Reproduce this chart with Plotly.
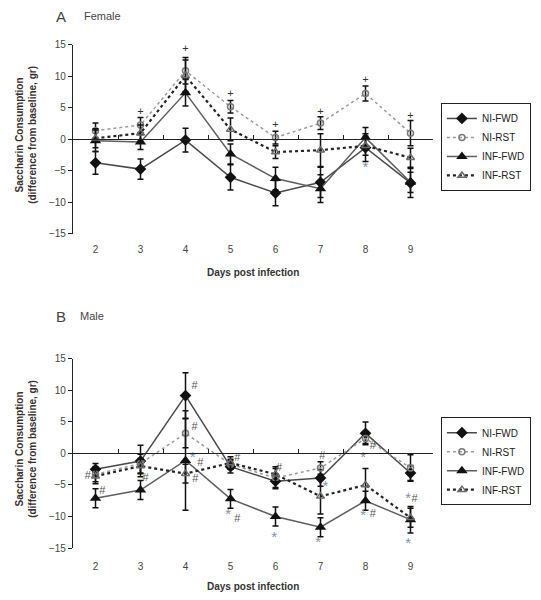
import plotly.graph_objects as go

days = [2, 3, 4, 5, 6, 7, 8, 9]
series_names = ["NI-FWD", "NI-RST", "INF-FWD", "INF-RST"]

# Panel A (Female)
f_ni_fwd = [-3.7, -4.7, -0.1, -6.0, -8.5, -6.8, -1.3, -6.9]
f_ni_fwd_se = [1.8, 1.6, 1.9, 2.0, 2.0, 2.4, 2.2, 2.3]
f_ni_rst = [1.4, 2.3, 10.9, 5.2, 0.3, 2.6, 7.3, 1.0]
f_ni_rst_se = [1.2, 1.2, 2.1, 1.0, 1.0, 1.0, 1.2, 2.0]
f_inf_fwd = [-0.2, -0.4, 7.4, -2.3, -6.2, -7.8, 0.3, -6.8]
f_inf_fwd_se = [1.7, 1.2, 2.1, 1.6, 1.8, 2.2, 1.6, 1.6]
f_inf_rst = [0.2, 1.0, 10.1, 1.6, -2.0, -1.7, -1.0, -2.9]
f_inf_rst_se = [1.5, 1.3, 2.5, 1.8, 1.0, 2.6, 1.5, 1.5]

# Panel B (Male)
m_ni_fwd = [-2.5, -1.2, 9.2, -2.1, -4.4, -3.9, 3.2, -3.1]
m_ni_fwd_se = [0.9, 2.5, 3.6, 1.0, 1.2, 1.3, 1.8, 1.2]
m_ni_rst = [-3.3, -1.6, 3.2, -1.7, -3.9, -2.3, 2.4, -2.3]
m_ni_rst_se = [1.2, 1.5, 2.3, 0.8, 1.5, 1.0, 0.8, 2.1]
m_inf_fwd = [-7.1, -5.8, -1.1, -7.2, -10.0, -11.7, -7.5, -10.5]
m_inf_fwd_se = [1.5, 1.5, 7.9, 1.5, 1.5, 1.5, 1.5, 2.1]
m_inf_rst = [-3.6, -2.0, -3.2, -1.5, -3.3, -6.8, -5.0, -10.2]
m_inf_rst_se = [1.2, 1.2, 1.5, 1.0, 1.2, 2.8, 2.6, 1.5]

# significance marks
a_mark_x = [3, 4, 5, 6, 7, 8, 9, 8]
a_mark_y = [4.3, 14.4, 7.1, 2.2, 4.4, 9.4, 3.7, -4.6]
a_mark_text = ["+", "+", "+", "+", "+", "+", "+", "*"]

b_mark_x = [1.83, 2.15, 3.11, 4.2, 4.2, 4.16, 4.33, 4.22, 4.95, 5.15, 5.15,
            5.97, 6.08, 6.95, 7.11, 7.04, 8.16, 7.95, 7.95, 8.16, 8.95, 9.09, 8.95]
b_mark_y = [-3.6, -6.0, -4.0, 10.7, 4.1, -0.7, -1.5, -4.1, -9.8, -10.4, -0.7,
            -13.4, -2.3, -14.2, -5.4, -0.5, 1.2, -0.8, -10.0, -9.7, -7.2, -7.2, -14.4]
b_mark_text = ["#", "#", "#", "#", "#", "*", "#", "#", "*", "#", "#",
               "*", "#", "*", "*", "#", "#", "*", "*", "#", "*", "#", "*"]

x_tick_vals = days
y_tick_vals = [-15, -10, -5, 0, 5, 10, 15]

styles = {
    "NI-FWD": dict(line=dict(color="#4a4a4a", width=1.5, dash="solid"),
                   marker=dict(symbol="diamond", size=9, color="#111111")),
    "NI-RST": dict(line=dict(color="#9a9a9a", width=1.5, dash="dot"),
                   marker=dict(symbol="circle-open", size=6, color="#7a7a7a",
                               line=dict(width=1.5, color="#7a7a7a"))),
    "INF-FWD": dict(line=dict(color="#5e5e5e", width=1.5, dash="solid"),
                    marker=dict(symbol="triangle-up", size=10, color="#111111")),
    "INF-RST": dict(line=dict(color="#222222", width=2.2, dash="dot"),
                    marker=dict(symbol="triangle-up-open", size=7, color="#6a6a6a",
                                line=dict(width=1.5, color="#6a6a6a"))),
}

fig = go.Figure()

panels = [
    ("x", "y", "legend",
     [(f_ni_fwd, f_ni_fwd_se), (f_ni_rst, f_ni_rst_se),
      (f_inf_fwd, f_inf_fwd_se), (f_inf_rst, f_inf_rst_se)]),
    ("x2", "y2", "legend2",
     [(m_ni_fwd, m_ni_fwd_se), (m_ni_rst, m_ni_rst_se),
      (m_inf_fwd, m_inf_fwd_se), (m_inf_rst, m_inf_rst_se)]),
]

for xa, ya, lg, data in panels:
    for name, (vals, se) in zip(series_names, data):
        st = styles[name]
        fig.add_trace(go.Scatter(
            x=days, y=vals, name=name, mode="lines+markers",
            line=st["line"], marker=st["marker"],
            error_y=dict(type="data", array=se, visible=True,
                         color="#111111", thickness=1.5, width=3),
            xaxis=xa, yaxis=ya, legend=lg, showlegend=True,
        ))

mark_style = {"+": ("#333333", 11), "#": ("#555555", 11), "*": ("#7f93a6", 15)}
for xa, ya, mx, my, mt in [("x", "y", a_mark_x, a_mark_y, a_mark_text),
                           ("x2", "y2", b_mark_x, b_mark_y, b_mark_text)]:
    for sym, (col, sz) in mark_style.items():
        idx = [i for i, t in enumerate(mt) if t == sym]
        if not idx:
            continue
        fig.add_trace(go.Scatter(
            x=[mx[i] for i in idx], y=[my[i] for i in idx],
            text=[sym] * len(idx), mode="text",
            textfont=dict(size=sz, color=col, family="Liberation Sans, Arial"),
            xaxis=xa, yaxis=ya, showlegend=False, hoverinfo="skip"))

# invisible traces to carry zero-line axes
fig.add_trace(go.Scatter(x=[], y=[], xaxis="x3", yaxis="y", showlegend=False))
fig.add_trace(go.Scatter(x=[], y=[], xaxis="x4", yaxis="y2", showlegend=False))

domA = [0.6138, 0.9397]
domB = [0.0724, 0.3983]
xr = [1.5, 9.5]
tickfont = dict(size=10, color="#444444", family="Liberation Sans, Arial")

def xaxis_labels(anchor, standoff):
    return dict(range=xr, tickvals=x_tick_vals, showline=False, ticks="",
                showgrid=False, zeroline=False, tickfont=tickfont,
                ticklabelstandoff=standoff, anchor=anchor, domain=[0, 1])

def yaxis(dom, anchor):
    return dict(range=[-15, 15], tickvals=y_tick_vals, domain=dom, anchor=anchor,
                showline=True, linecolor="#222222", linewidth=1.2,
                ticks="outside", ticklen=4, tickcolor="#222222",
                showgrid=False, zeroline=False, tickfont=tickfont)

def zero_axis(over, pos):
    return dict(range=xr, overlaying=over, anchor="free", position=pos,
                tickvals=[1.5 + i for i in range(9)], ticks="inside", ticklen=4,
                tickcolor="#222222", showticklabels=False, showline=True,
                linecolor="#222222", linewidth=1.2, showgrid=False, zeroline=False)

legend_common = dict(xanchor="left", yanchor="top",
                     bordercolor="#222222", borderwidth=1, bgcolor="white",
                     font=dict(size=10, color="#222222"), tracegroupgap=0,
                     itemwidth=30)

fig.update_layout(
    width=533, height=592,
    margin=dict(l=65, r=108, t=2, b=10, autoexpand=False),
    paper_bgcolor="white", plot_bgcolor="white",
    font=dict(family="Liberation Sans, Arial", color="#333333"),
    xaxis=xaxis_labels("y", 8),
    yaxis=yaxis(domA, "x"),
    xaxis2=xaxis_labels("y2", 11),
    yaxis2=yaxis(domB, "x2"),
    xaxis3=zero_axis("x", sum(domA) / 2),
    xaxis4=zero_axis("x2", sum(domB) / 2),
    legend=dict(x=1.022, y=0.8397, **legend_common),
    legend2=dict(x=1.022, y=0.298, **legend_common),
    showlegend=True,
)

ytitle = "<b>Saccharin Consumption<br>(difference from baseline, gr)</b>"
for (dom, letter, sex, ytop_px, sex_x) in [(domA, "A", "Female", 16, 82),
                                            (domB, "B", "Male", 316, 78)]:
    mid = sum(dom) / 2 + 0.008
    fig.add_annotation(text=ytitle, x=(26 - 73) / 360, y=mid, xref="paper", yref="paper",
                       textangle=-90, showarrow=False,
                       font=dict(size=10, color="#3a2e2e"), xanchor="center", yanchor="middle")
    fig.add_annotation(text="<b>Days post infection</b>", x=0.5, y=dom[0] - 0.066,
                       xref="paper", yref="paper", showarrow=False,
                       font=dict(size=10, color="#333333"), yanchor="middle")
    fig.add_annotation(text=letter, x=(54 - 73) / 360, y=(590 - ytop_px) / 580,
                       xref="paper", yref="paper",
                       showarrow=False, font=dict(size=15, color="#444444"),
                       xanchor="left", yanchor="middle")
    fig.add_annotation(text=sex, x=(sex_x - 73) / 360, y=(590 - ytop_px) / 580,
                       xref="paper", yref="paper",
                       showarrow=False, font=dict(size=11, color="#444444"),
                       xanchor="left", yanchor="middle")

fig.write_html("out.html")
